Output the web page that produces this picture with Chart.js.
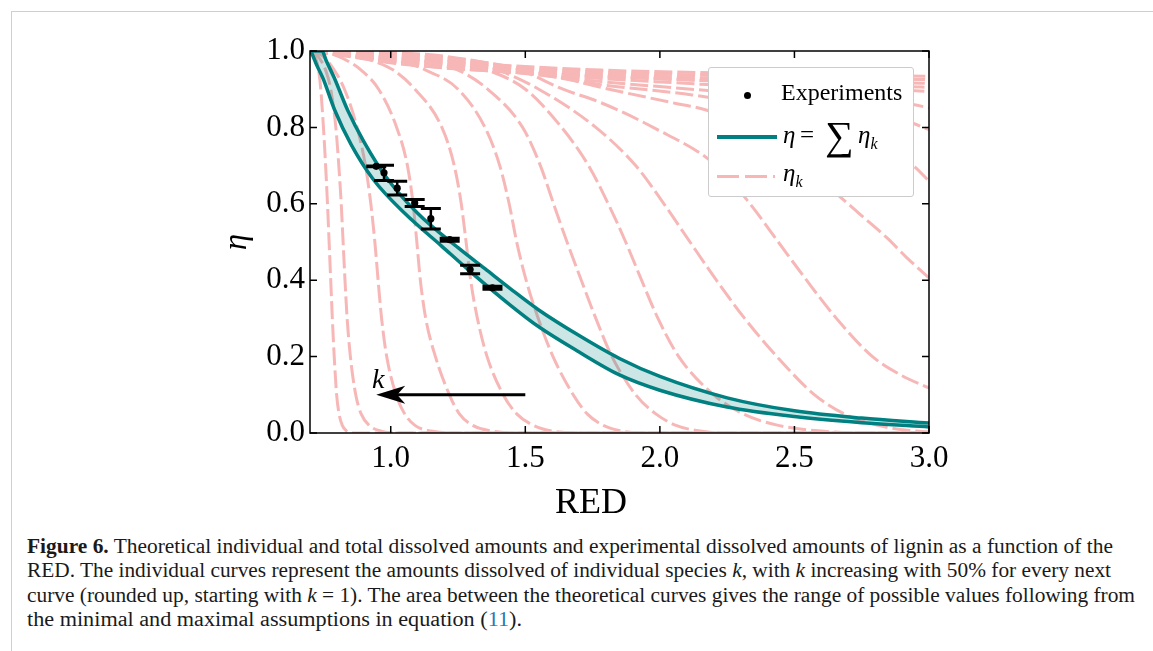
<!DOCTYPE html>
<html><head><meta charset="utf-8">
<script src="https://cdn.jsdelivr.net/npm/chart.js@4.4.0/dist/chart.umd.min.js"></script>
<style>
html,body{margin:0;padding:0;background:#fff;}
body{width:1153px;height:651px;position:relative;overflow:hidden;font-family:'Liberation Serif',serif;color:#111;}
#frame{position:absolute;left:11px;top:11px;width:1142px;height:640px;border-left:1px solid #cfcfcf;border-top:1px solid #cfcfcf;}
#wrap{position:absolute;left:0;top:0;width:1153px;height:530px;}
#legend{position:absolute;left:708px;top:67px;width:204px;height:128px;border:1px solid #cccccc;border-radius:3px;background:#fff;font-family:'Liberation Serif',serif;color:#000;}
#legend .it{position:absolute;white-space:nowrap;}
#caption{position:absolute;left:27px;top:534px;font-size:20.5px;line-height:24.3px;white-space:nowrap;color:#1a1a1a;}
#caption .ln{display:block;}
#caption .ln span.in{display:inline-block;transform-origin:0 50%;}
#caption a{color:#2a7ab8;text-decoration:none;}
</style></head>
<body>
<div id="frame"></div>
<div id="wrap"><canvas id="c" width="1153" height="530"></canvas></div>
<div id="legend">
  <div class="it" style="left:34.5px;top:23.5px;width:7px;height:7px;border-radius:50%;background:#000;"></div>
  <div class="it" style="left:72px;top:9px;font-size:24px;line-height:30px;">Experiments</div>
  <div class="it" style="left:8px;top:67px;width:60px;height:4px;background:#008080;"></div>
  <div class="it" style="left:74px;top:55px;font-size:25px;line-height:24px;font-style:italic;">η</div>
  <div class="it" style="left:91px;top:55px;font-size:25px;line-height:24px;">=</div>
  <div class="it" style="left:116px;top:50px;font-size:40px;line-height:36px;">∑</div>
  <div class="it" style="left:149px;top:55px;font-size:25px;line-height:24px;font-style:italic;">η<sub style="font-size:16px;">k</sub></div>
  <div class="it" style="left:8px;top:106.5px;width:58px;height:3px;background:repeating-linear-gradient(90deg,#f7b7b7 0 22px,transparent 22px 28px);"></div>
  <div class="it" style="left:74px;top:90px;font-size:25px;line-height:30px;font-style:italic;">η<sub style="font-size:16px;">k</sub></div>
</div>
<div id="caption">
<span class="ln"><span class="in" data-w="1086"><b>Figure 6.</b> Theoretical individual and total dissolved amounts and experimental dissolved amounts of lignin as a function of the</span></span>
<span class="ln"><span class="in" data-w="1084">RED. The individual curves represent the amounts dissolved of individual species <i>k</i>, with <i>k</i> increasing with 50% for every next</span></span>
<span class="ln"><span class="in" data-w="1108">curve (rounded up, starting with <i>k</i> = 1). The area between the theoretical curves gives the range of possible values following from</span></span>
<span class="ln"><span class="in" data-w="495">the minimal and maximal assumptions in equation (<a>11</a>).</span></span>
</div>
<script>
// ---------- data ----------
const xTickValues = [1.0, 1.5, 2.0, 2.5, 3.0];
const yTickValues = [0.0, 0.2, 0.4, 0.6, 0.8, 1.0];

// experiments: RED, eta, error (±)
const expRed = [0.946, 0.975, 1.024, 1.089, 1.149, 1.219, 1.295, 1.378];
const expEta = [0.698, 0.681, 0.641, 0.602, 0.561, 0.506, 0.428, 0.380];
const expErr = [0.001, 0.020, 0.018, 0.009, 0.027, 0.004, 0.011, 0.004];

// total eta = sum eta_k : maximal and minimal theoretical curves [RED, eta]
const etaUpper = [[0.70,1.0],[0.745,1.0],[0.76,0.975],[0.79,0.93],[0.84,0.845],[0.90,0.763],[0.98,0.673],[1.10,0.575],[1.25,0.485],[1.35,0.43],[1.444,0.378],[1.55,0.322],[1.70,0.255],[1.85,0.195],[2.0,0.148],[2.25,0.092],[2.5,0.058],[2.75,0.039],[3.0,0.026]];
const etaLower = [[0.70,1.0],[0.707,0.993],[0.725,0.963],[0.748,0.929],[0.792,0.845],[0.853,0.755],[0.934,0.665],[1.052,0.575],[1.188,0.49],[1.3,0.42],[1.444,0.335],[1.55,0.278],[1.70,0.212],[1.85,0.152],[2.0,0.112],[2.25,0.068],[2.5,0.043],[2.75,0.027],[3.0,0.016]];

// individual species curves eta_k [RED, eta], steepest (largest k) first
const etaK01 = [[0.700,1.0],[0.714,0.99],[0.722,0.98],[0.732,0.95],[0.740,0.9],[0.750,0.8],[0.758,0.7],[0.765,0.6],[0.771,0.5],[0.777,0.4],[0.783,0.3],[0.790,0.2],[0.799,0.1],[0.808,0.05],[0.820,0.02],[0.836,0.005],[0.86,0.0],[3.0,0.0]];
const etaK02 = [[0.70,1.0],[0.725,0.99],[0.745,0.97],[0.758,0.95],[0.777,0.9],[0.796,0.8],[0.807,0.7],[0.816,0.6],[0.823,0.5],[0.830,0.4],[0.838,0.3],[0.850,0.2],[0.870,0.1],[0.890,0.05],[0.920,0.02],[0.965,0.005],[1.03,0.0],[3.0,0.0]];
const etaK03 = [[0.70,1.0],[0.74,0.99],[0.757,0.98],[0.79,0.95],[0.828,0.9],[0.875,0.8],[0.906,0.7],[0.926,0.6],[0.941,0.5],[0.953,0.4],[0.966,0.3],[0.985,0.2],[1.02,0.1],[1.052,0.05],[1.09,0.02],[1.15,0.005],[1.24,0.0],[3.0,0.0]];
const etaK04 = [[0.70,1.0],[0.79,0.99],[0.85,0.97],[0.89,0.95],[0.955,0.9],[1.022,0.8],[1.062,0.7],[1.083,0.6],[1.097,0.5],[1.110,0.4],[1.130,0.3],[1.166,0.2],[1.218,0.1],[1.255,0.05],[1.305,0.02],[1.375,0.005],[1.47,0.0],[3.0,0.0]];
const etaK05 = [[0.70,1.0],[0.85,0.99],[0.95,0.97],[1.01,0.95],[1.09,0.9],[1.19,0.8],[1.236,0.7],[1.262,0.6],[1.280,0.5],[1.297,0.4],[1.322,0.3],[1.358,0.2],[1.418,0.1],[1.468,0.05],[1.53,0.02],[1.60,0.005],[1.70,0.0],[3.0,0.0]];
const etaK06 = [[0.70,1.0],[0.90,0.99],[1.05,0.97],[1.13,0.95],[1.25,0.9],[1.35,0.8],[1.405,0.7],[1.44,0.6],[1.468,0.5],[1.503,0.4],[1.548,0.3],[1.603,0.2],[1.678,0.1],[1.73,0.05],[1.79,0.02],[1.86,0.005],[1.95,0.0],[3.0,0.0]];
const etaK07 = [[0.70,1.0],[0.98,0.99],[1.15,0.97],[1.25,0.95],[1.36,0.9],[1.49,0.8],[1.556,0.7],[1.605,0.6],[1.655,0.5],[1.708,0.4],[1.762,0.3],[1.822,0.2],[1.91,0.1],[1.985,0.05],[2.06,0.02],[2.15,0.005],[2.25,0.0],[3.0,0.0]];
const etaK08 = [[0.70,1.0],[1.05,0.99],[1.25,0.97],[1.36,0.95],[1.50,0.9],[1.635,0.8],[1.735,0.7],[1.808,0.6],[1.873,0.5],[1.932,0.4],[1.993,0.3],[2.07,0.2],[2.20,0.1],[2.31,0.05],[2.44,0.02],[2.60,0.005],[2.80,0.0],[3.0,0.0]];
const etaK09 = [[0.70,1.0],[1.10,0.99],[1.30,0.97],[1.40,0.95],[1.55,0.9],[1.762,0.8],[1.91,0.7],[2.015,0.6],[2.112,0.5],[2.21,0.4],[2.315,0.3],[2.435,0.2],[2.575,0.1],[2.685,0.05],[2.81,0.02],[2.95,0.005],[3.0,0.003]];
const etaK10 = [[0.70,1.0],[1.15,0.99],[1.35,0.97],[1.48,0.95],[1.64,0.9],[1.78,0.865],[1.975,0.8],[2.21,0.7],[2.335,0.6],[2.44,0.5],[2.545,0.4],[2.656,0.3],[2.79,0.2],[2.90,0.15],[3.0,0.118]];
const etaK11 = [[0.70,1.0],[1.1,0.99],[1.35,0.97],[1.55,0.945],[1.78,0.905],[2.064,0.862],[2.175,0.845],[2.30,0.805],[2.41,0.755],[2.51,0.705],[2.646,0.632],[2.746,0.571],[2.845,0.51],[2.919,0.458],[3.0,0.406]];
const etaK12 = [[0.70,1.0],[0.95,0.99],[1.2,0.975],[1.5,0.945],[1.78,0.912],[2.12,0.885],[2.4,0.85],[2.63,0.805],[2.80,0.76],[2.9,0.72],[2.95,0.695],[3.0,0.659]];
const etaK13 = [[0.70,1.0],[0.9,0.99],[1.1,0.975],[1.41,0.948],[1.78,0.92],[2.2,0.895],[2.5,0.875],[2.75,0.85],[2.92,0.816],[3.0,0.794]];
const etaK14 = [[0.70,1.0],[0.85,0.988],[1.035,0.97],[1.41,0.948],[1.78,0.928],[2.175,0.912],[2.5,0.895],[2.75,0.878],[2.94,0.86],[3.0,0.851]];
const etaK15 = [[0.70,1.0],[0.85,0.986],[1.035,0.967],[1.41,0.946],[1.78,0.933],[2.175,0.922],[2.5,0.912],[2.75,0.903],[3.0,0.894]];
const etaK16 = [[0.70,1.0],[0.85,0.985],[1.035,0.966],[1.41,0.946],[1.78,0.935],[2.2,0.922],[2.6,0.913],[3.0,0.905]];
const etaK17 = [[0.70,1.0],[0.85,0.987],[1.035,0.970],[1.41,0.951],[1.78,0.940],[2.2,0.929],[2.6,0.922],[3.0,0.915]];
const etaK18 = [[0.70,1.0],[0.85,0.989],[1.035,0.975],[1.41,0.957],[1.78,0.945],[2.2,0.936],[2.6,0.930],[3.0,0.925]];
const etaK19 = [[0.70,1.0],[0.85,0.991],[1.035,0.980],[1.41,0.963],[1.78,0.950],[2.2,0.943],[2.6,0.938],[3.0,0.934]];
const etaKCurves = [etaK01,etaK02,etaK03,etaK04,etaK05,etaK06,etaK07,etaK08,etaK09,etaK10,etaK11,etaK12,etaK13,etaK14,etaK15,etaK16,etaK17,etaK18,etaK19];

// arrow annotation (data coordinates)
const arrowTail = [1.5, 0.1];
const arrowTip = [0.946, 0.1];
const arrowLabelPos = [0.953, 0.137];

// ---------- chart ----------
const toXY = arr => arr.map(p => ({x: p[0], y: p[1]}));
const TEAL = '#008080';
const PINK = '#f7b7b7';
const SERIF = "'Liberation Serif', 'DejaVu Serif', serif";

const datasets = [];
datasets.push({label:'Experiments', type:'scatter', data: expRed.map((r,i)=>({x:r,y:expEta[i]})),
  showLine:false, pointRadius:3.6, pointBackgroundColor:'#000', pointBorderWidth:0, order:0});
datasets.push({label:'eta max', data: toXY(etaUpper), borderColor:TEAL, borderWidth:3.5, pointRadius:0,
  cubicInterpolationMode:'monotone', fill:false, order:1});
datasets.push({label:'eta min', data: toXY(etaLower), borderColor:TEAL, borderWidth:3.5, pointRadius:0,
  cubicInterpolationMode:'monotone', fill:'-1', backgroundColor:'rgba(0,128,128,0.2)', order:1});
etaKCurves.forEach((c,i)=>{
  datasets.push({label:'eta_k '+(i+1), data: toXY(c), borderColor:PINK, borderWidth:3, borderDash:[18,5],
    pointRadius:0, cubicInterpolationMode:'monotone', fill:false, order:2});
});

const overlay = {
  id:'overlay',
  afterDatasetsDraw(chart){
    const {ctx, scales:{x,y}} = chart;
    ctx.save();
    ctx.strokeStyle = '#000'; ctx.fillStyle = '#000';
    for (let i=0;i<expRed.length;i++){
      const px = x.getPixelForValue(expRed[i]);
      const t = y.getPixelForValue(expEta[i]+expErr[i]);
      const b = y.getPixelForValue(expEta[i]-expErr[i]);
      ctx.lineWidth = 2.5;
      ctx.beginPath(); ctx.moveTo(px,t); ctx.lineTo(px,b); ctx.stroke();
      ctx.lineWidth = 3;
      ctx.beginPath(); ctx.moveTo(px-10,t); ctx.lineTo(px+10,t); ctx.moveTo(px-10,b); ctx.lineTo(px+10,b); ctx.stroke();
    }
    const tx = x.getPixelForValue(arrowTip[0]), ty = y.getPixelForValue(arrowTip[1]);
    const sx = x.getPixelForValue(arrowTail[0]), sy = y.getPixelForValue(arrowTail[1]);
    ctx.lineWidth = 3;
    ctx.beginPath(); ctx.moveTo(sx,sy); ctx.lineTo(tx+20,ty); ctx.stroke();
    ctx.beginPath(); ctx.moveTo(tx,ty); ctx.lineTo(tx+29,ty-9); ctx.lineTo(tx+21,ty); ctx.lineTo(tx+29,ty+9); ctx.closePath(); ctx.fill();
    ctx.font = "italic 28px " + SERIF;
    ctx.textAlign='center'; ctx.textBaseline='middle';
    ctx.fillText('k', x.getPixelForValue(arrowLabelPos[0]), y.getPixelForValue(arrowLabelPos[1]));
    ctx.restore();
  },
  afterDraw(chart){
    const {ctx, chartArea:a, scales:{x,y}} = chart;
    ctx.save();
    ctx.strokeStyle='#000'; ctx.lineWidth=1.5;
    ctx.strokeRect(a.left, a.top, a.right-a.left, a.bottom-a.top);
    const L = 7;
    ctx.beginPath();
    xTickValues.forEach(v=>{
      const p = x.getPixelForValue(v);
      ctx.moveTo(p,a.bottom); ctx.lineTo(p,a.bottom-L);
      ctx.moveTo(p,a.top); ctx.lineTo(p,a.top+L);
    });
    yTickValues.forEach(v=>{
      const p = y.getPixelForValue(v);
      ctx.moveTo(a.left,p); ctx.lineTo(a.left+L,p);
      ctx.moveTo(a.right,p); ctx.lineTo(a.right-L,p);
    });
    ctx.stroke();
    // axis titles
    ctx.fillStyle='#000'; ctx.textAlign='center'; ctx.textBaseline='middle';
    ctx.font = "36px " + SERIF;
    ctx.fillText('RED', 591, 504);
    ctx.save();
    ctx.translate(237, (a.top+a.bottom)/2);
    ctx.rotate(-Math.PI/2);
    ctx.font = "italic 33px " + SERIF;
    ctx.fillText('η', 0, 0);
    ctx.restore();
    ctx.restore();
  }
};

new Chart(document.getElementById('c'), {
  type:'line',
  data:{datasets},
  options:{
    responsive:false, animation:false, events:[],
    layout:{padding:{left:215, top:51, right:224, bottom:0}},
    plugins:{legend:{display:false}, tooltip:{enabled:false}},
    scales:{
      x:{type:'linear', min:0.7, max:3.0,
        afterBuildTicks: s => { s.ticks = xTickValues.map(v=>({value:v})); },
        afterFit: s => { s.height = 97; },
        grid:{display:false, drawTicks:false}, border:{display:false},
        ticks:{autoSkip:false, maxRotation:0, padding:7, color:'#000', font:{family:SERIF, size:31},
          callback: v => Number(v).toFixed(1)},
        title:{display:false}
      },
      y:{type:'linear', min:0, max:1,
        afterBuildTicks: s => { s.ticks = yTickValues.map(v=>({value:v})); },
        afterFit: s => { s.width = 95; },
        grid:{display:false, drawTicks:false}, border:{display:false},
        ticks:{autoSkip:false, padding:5, color:'#000', font:{family:SERIF, size:31},
          callback: v => Number(v).toFixed(1)},
        title:{display:false}
      }
    }
  },
  plugins:[overlay]
});

// fit caption lines to the reference line widths
document.querySelectorAll('#caption .in').forEach(el=>{
  const w = el.getBoundingClientRect().width;
  const target = parseFloat(el.dataset.w);
  el.style.transform = 'scaleX(' + (target/w).toFixed(4) + ')';
});
</script>
</body></html>
